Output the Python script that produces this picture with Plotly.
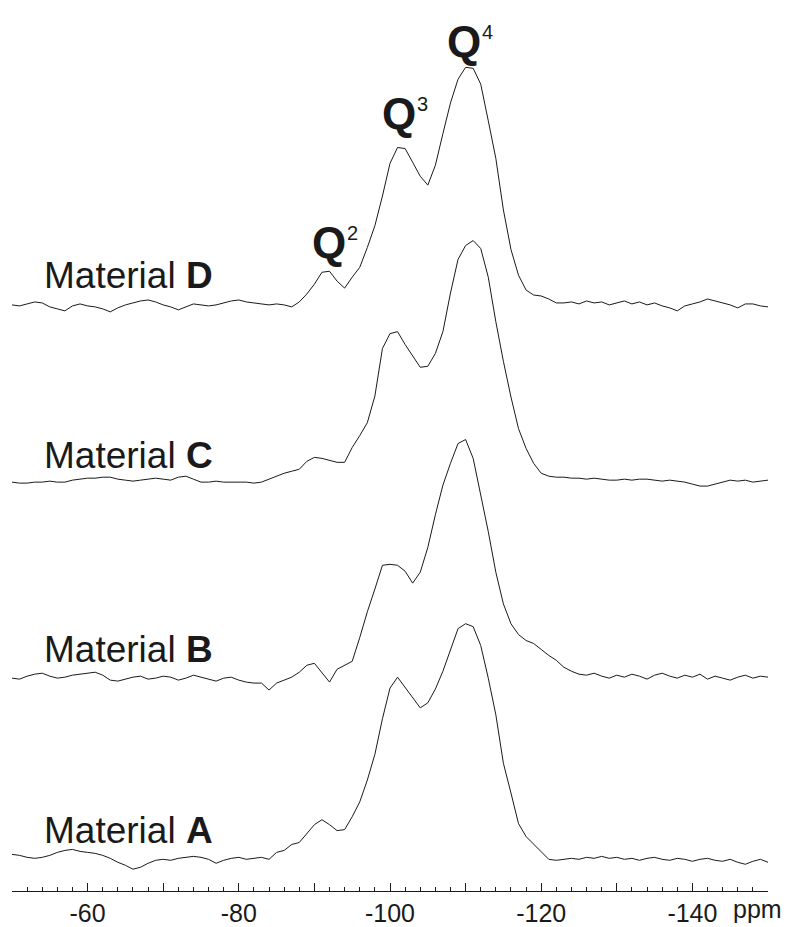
import plotly.graph_objects as go

# Chemical shift grid (ppm), 1 ppm sampling
ppm = list(range(-50, -151, -1))

# 29Si MAS NMR intensities (arbitrary units) for each material, -50 ... -150 ppm
material_A = [
    6, 5, 3, 2, 3, 5, 8, 10, 11, 9,
    8, 7, 5, 2, -2, -5, -9, -7, -3, 0,
    1, 0, 2, 3, 4, 3, 1, -3, 0, 2,
    3, 1, 2, 3, 1, 8, 10, 16, 18, 27,
    36, 41, 36, 30, 31, 44, 59, 81, 107, 143,
    174, 185, 175, 164, 154, 159, 173, 191, 213, 234,
    239, 236, 217, 184, 147, 98, 68, 37, 24, 16,
    9, 1, 0, 1, 2, 1, 3, 2, 4, 2,
    3, 1, 2, 0, 2, 3, 1, 0, 2, 1,
    -1, 1, 2, 0, -1, 1, -2, -4, -1, 1, -2,
]
material_B = [
    -1, -2, 1, 3, 4, 1, -1, 0, 2, 3,
    4, 5, 2, -3, -4, -2, 0, 1, -2, -1,
    1, 0, -3, -1, 2, 0, -2, -4, -1, 0,
    -3, -5, -6, -6, -13, -6, -3, 0, 5, 12,
    14, 4, -5, 8, 12, 16, 40, 66, 89, 113,
    114, 113, 107, 95, 106, 131, 164, 194, 216, 236,
    240, 221, 184, 147, 106, 74, 54, 43, 37, 34,
    28, 22, 17, 10, 6, 3, 2, 4, 1, -1,
    2, 0, 3, 1, -2, 2, 4, 1, -1, 2,
    0, 3, -2, 1, -1, -3, 0, 2, -1, 1, 0,
]
material_C = [
    -1, -2, -2, -1, -1, 0, -1, -1, 1, 2,
    3, 3, 4, 4, 2, 1, 0, 1, 2, 3,
    2, 1, 4, 5, 2, -1, -1, 0, -1, -1,
    -1, -1, -2, -1, 2, 5, 8, 10, 12, 20,
    24, 23, 21, 19, 19, 34, 46, 59, 86, 134,
    149, 151, 138, 127, 115, 116, 129, 151, 190, 224,
    238, 243, 235, 206, 161, 121, 85, 53, 33, 18,
    8, 5, 4, 4, 3, 3, 2, 3, 2, 1,
    1, 2, 1, 2, 2, 1, 0, 1, 0, -1,
    -3, -5, -5, -3, -1, 1, 0, 1, -1, 0, 1,
]
material_D = [
    0, -1, 1, 3, 2, -2, -4, -6, -1, 1,
    -1, -2, -4, -7, -3, 0, 2, 4, 5, 3,
    0, -2, -5, -2, 1, 0, -1, 0, 2, 4,
    5, 3, 2, 1, 0, 1, 0, -2, 3, 11,
    21, 33, 34, 24, 17, 28, 38, 58, 80, 110,
    143, 159, 158, 144, 130, 121, 141, 173, 204, 228,
    240, 239, 223, 186, 148, 96, 56, 30, 15, 10,
    9, 6, 2, 2, 3, 1, 4, 2, 3, 0,
    2, 4, 1, 3, 0, 2, -1, -3, -6, -1,
    1, 3, 6, 4, 2, 0, -3, 1, 1, -1, -2,
]

names = ["A", "B", "C", "D"]
spectra = [material_A, material_B, material_C, material_D]
stack_offsets = [31, 216, 414, 592]

# Silicon site labels (Qn): the Q ends at the anchor, its superscript starts there
q_sites = ["2", "3", "4"]
q_anchor = {"2": (-94.4, 655), "3": (-103.7, 785), "4": (-112.3, 858)}

# Axis ticks: labelled every 20 ppm, plain ticks every 10 ppm, minor every 2 ppm
tick_vals = list(range(-50, -151, -10))
tick_labels = {-60: "-60", -80: "-80", -100: "-100", -120: "-120", -140: "-140"}
tick_text = [tick_labels.get(v, "") for v in tick_vals]

FONT = "Liberation Sans, Arial, Helvetica, sans-serif"
INK = "#1a1a1a"

fig = go.Figure()
for name, ys, off in zip(names, spectra, stack_offsets):
    fig.add_trace(go.Scatter(
        x=ppm, y=[v + off for v in ys], mode="lines",
        line=dict(color=INK, width=1), name=f"Material {name}",
        hoverinfo="skip",
    ))

annotations = []
label_y = [61, 244, 440, 622]
for name, yv in zip(names, label_y):
    annotations.append(dict(
        x=-54.0, y=yv, xref="x", yref="y", xanchor="left", yanchor="middle",
        text=f"Material <b>{name}</b>", showarrow=False,
        font=dict(family=FONT, size=37, color=INK),
    ))

for sup in q_sites:
    ax, ay = q_anchor[sup]
    annotations.append(dict(
        x=ax, y=ay, xref="x", yref="y", xanchor="right", yanchor="middle",
        text="<b>Q</b>", showarrow=False,
        font=dict(family=FONT, size=44, color=INK),
    ))
    annotations.append(dict(
        x=ax, y=ay, xref="x", yref="y", xanchor="left", yanchor="middle",
        xshift=-3, yshift=10, text=sup, showarrow=False,
        font=dict(family=FONT, size=20, color=INK),
    ))

annotations.append(dict(
    x=-148.6, y=0, xref="x", yref="paper", xanchor="center", yanchor="top",
    yshift=-2, text="ppm", showarrow=False,
    font=dict(family=FONT, size=25, color=INK),
))

fig.update_layout(
    width=788, height=927,
    margin=dict(l=12, r=20, t=0, b=27),
    paper_bgcolor="white", plot_bgcolor="white",
    showlegend=False,
    annotations=annotations,
    xaxis=dict(
        range=[-50, -150], showgrid=False, zeroline=False,
        showline=True, linecolor=INK, linewidth=1,
        tickmode="array", tickvals=tick_vals, ticktext=tick_text,
        ticks="inside", ticklen=8, tickwidth=1, tickcolor=INK,
        tickfont=dict(family=FONT, size=25, color=INK),
        minor=dict(dtick=2, tick0=-50, ticks="inside", ticklen=4,
                   tickwidth=1, tickcolor=INK, showgrid=False),
    ),
    yaxis=dict(range=[0, 900], visible=False),
)

fig.write_html("out.html")
